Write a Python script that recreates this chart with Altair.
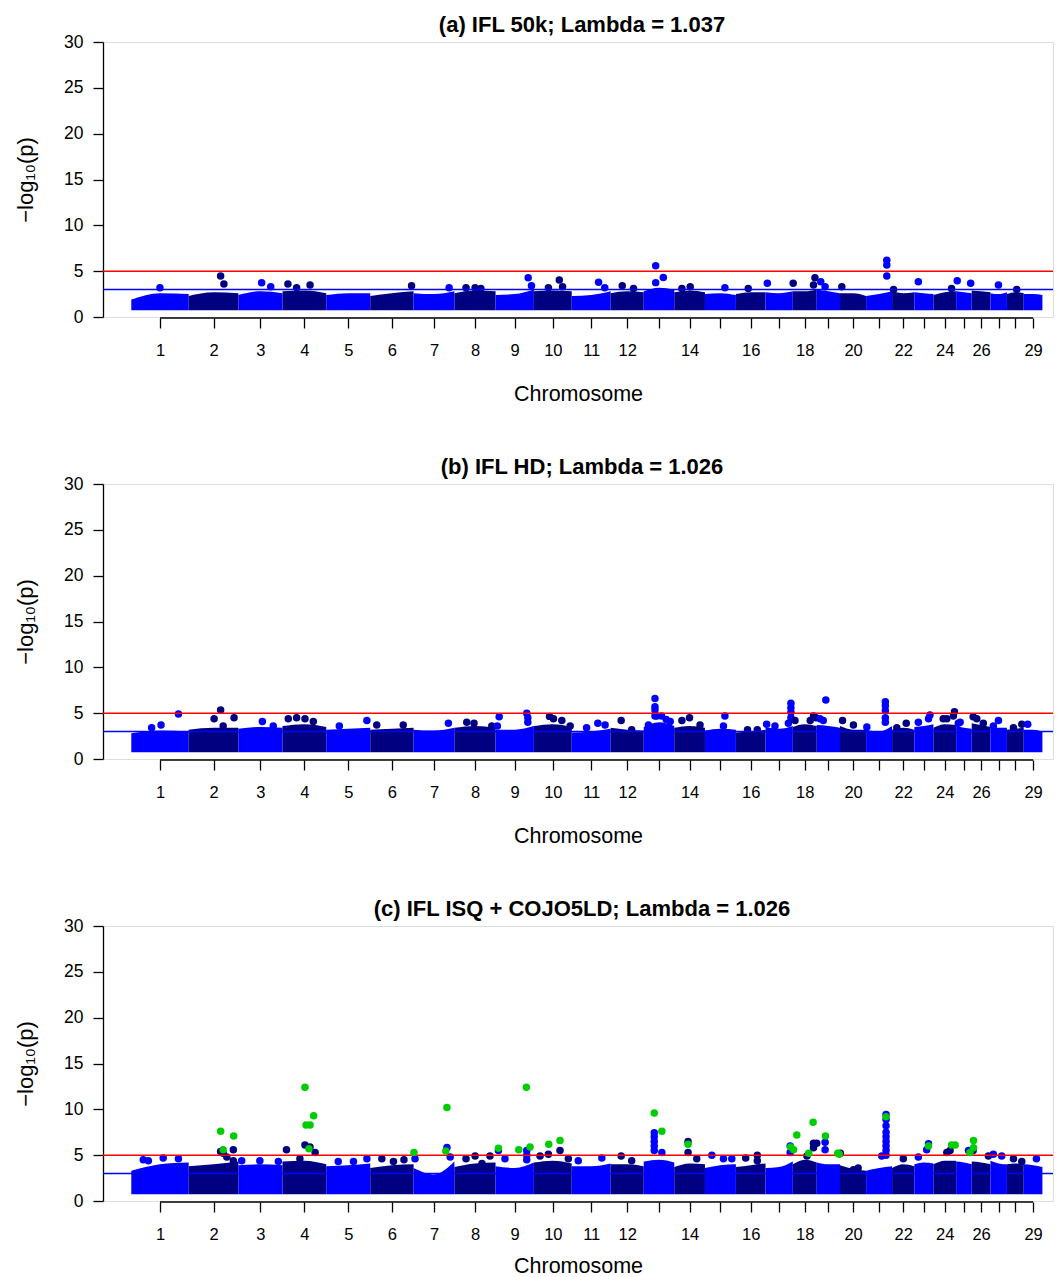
import altair as alt
import pandas as pd

# ---------------- data ----------------
chrom_names = [str(i) for i in range(1, 30)]
chrom_len = [158.3, 137.1, 121.4, 120.7, 121.2, 119.5, 112.6, 113.4, 105.7, 104.3,
             107.3, 91.2, 84.2, 84.6, 85.3, 81.7, 75.2, 66.0, 64.1, 72.0,
             71.6, 61.4, 52.5, 62.7, 42.9, 51.7, 45.4, 46.3, 51.5]
tick_labels = ["1", "2", "3", "4", "5", "6", "7", "8", "9", "10", "11", "12", "",
               "14", "", "16", "", "18", "", "20", "", "22", "", "24", "", "26",
               "", "", "29"]

titles = ["(a) IFL 50k; Lambda = 1.037",
          "(b) IFL HD; Lambda = 1.026",
          "(c) IFL ISQ + COJO5LD; Lambda = 1.026"]

# upper edge of the dense SNP cloud per chromosome (start, middle, end)
env_a = [[1.9, 2.6, 2.5], [2.3, 2.7, 2.6], [2.4, 2.8, 2.6], [2.8, 2.9, 2.6], [2.4, 2.6, 2.6],
         [2.3, 2.6, 2.8], [2.6, 2.5, 2.8], [2.6, 2.9, 2.8], [2.4, 2.5, 3.0], [2.8, 2.9, 2.8],
         [2.3, 2.4, 2.8], [2.6, 2.8, 2.7], [2.8, 3.2, 3.0], [2.7, 2.9, 2.7], [2.5, 2.6, 2.4],
         [2.5, 2.7, 2.7], [2.7, 2.6, 2.8], [2.8, 2.8, 3.0], [3.0, 2.8, 2.6], [2.6, 2.6, 2.3],
         [2.3, 2.5, 2.8], [2.8, 2.6, 2.7], [2.7, 2.6, 2.5], [2.4, 2.7, 2.8], [2.8, 2.7, 2.6],
         [2.9, 2.8, 2.7], [2.6, 2.5, 2.7], [2.5, 2.7, 2.6], [2.5, 2.5, 2.4]]
env_b = [[2.8, 3.1, 3.0], [3.2, 3.4, 3.4], [3.3, 3.5, 3.4], [3.6, 3.8, 3.5], [3.2, 3.3, 3.4],
         [3.2, 3.3, 3.4], [3.2, 3.1, 3.4], [3.4, 3.6, 3.4], [3.2, 3.2, 3.6], [3.6, 3.8, 3.5],
         [2.9, 3.0, 3.3], [3.4, 3.2, 3.1], [3.5, 4.0, 3.6], [3.4, 3.6, 3.4], [3.1, 3.3, 3.2],
         [2.9, 3.0, 3.2], [3.5, 3.3, 3.6], [3.5, 3.8, 3.6], [3.7, 3.6, 3.4], [3.6, 3.2, 3.2],
         [3.2, 3.0, 3.6], [3.2, 3.4, 3.2], [3.5, 3.6, 3.8], [3.4, 3.8, 3.7], [3.6, 3.4, 3.3],
         [3.9, 3.7, 3.5], [3.5, 3.4, 3.4], [3.2, 3.3, 3.4], [3.2, 3.2, 3.0]]
env_c = [[3.3, 4.0, 4.2], [3.8, 4.0, 4.3], [3.9, 4.0, 3.9], [4.3, 4.4, 4.0], [3.8, 3.9, 4.1],
         [3.6, 3.9, 4.0], [3.6, 2.9, 4.3], [3.7, 4.1, 4.2], [3.8, 3.6, 4.2], [4.2, 4.4, 4.1],
         [3.8, 3.8, 4.1], [4.0, 4.0, 3.8], [4.3, 4.5, 4.2], [3.7, 4.1, 4.0], [3.6, 3.9, 4.0],
         [3.7, 3.9, 4.1], [3.6, 3.7, 4.3], [4.0, 4.5, 4.2], [4.2, 4.0, 4.0], [3.9, 3.5, 3.3],
         [3.3, 3.6, 3.8], [3.6, 4.0, 3.8], [4.0, 4.2, 4.1], [4.0, 4.4, 4.4], [4.3, 4.2, 4.0],
         [4.3, 4.2, 4.0], [4.4, 4.1, 4.0], [4.0, 4.1, 4.0], [4.0, 3.9, 3.7]]

# individual SNPs standing out of the cloud: (chromosome, position Mb, -log10 p)
peaks_a = [(1, 79, 3.2), (2, 88, 4.47), (2, 97, 3.6), (3, 64, 3.74), (3, 89, 3.3),
           (4, 15, 3.6), (4, 39, 3.2), (4, 76, 3.5), (6, 114, 3.4), (7, 98, 3.2),
           (8, 32, 3.2), (8, 57, 3.2), (8, 73, 3.1), (9, 90, 4.29), (9, 99, 3.4),
           (10, 70, 4.03), (10, 79, 3.3), (10, 40, 3.2), (11, 74, 3.78), (11, 91, 3.2),
           (12, 32, 3.4), (12, 63, 3.1), (13, 33, 5.6), (13, 54, 4.3), (13, 33, 3.75),
           (14, 44, 3.3), (14, 21, 3.1), (15, 55, 3.2), (16, 34, 3.1), (17, 5, 3.67),
           (18, 1, 3.67), (18, 61, 4.29), (18, 57, 3.5), (19, 11, 3.85), (19, 23, 3.3),
           (20, 5, 3.3), (21, 57, 6.2), (21, 57, 5.67), (21, 57, 4.47), (22, 4, 3.0),
           (23, 11, 3.85), (24, 50, 3.1), (25, 3, 3.96), (25, 40, 3.67), (27, 22, 3.5),
           (28, 27, 3.0)]
peaks_b = [(1, 82, 3.7), (1, 130, 4.9), (1, 56, 3.4), (2, 88, 5.34), (2, 70, 4.4),
           (2, 125, 4.5), (2, 95, 3.6), (3, 66, 4.1), (3, 96, 3.6), (4, 16, 4.4),
           (4, 39, 4.5), (4, 62, 4.4), (4, 85, 4.1), (5, 36, 3.6), (5, 112, 4.2),
           (6, 18, 3.7), (6, 91, 3.7), (7, 96, 3.9), (8, 34, 4.0), (8, 54, 3.9),
           (8, 103, 3.6), (9, 10, 4.6), (9, 5, 3.6), (9, 86, 5.0), (9, 89, 4.5),
           (9, 89, 4.0), (10, 43, 4.65), (10, 54, 4.4), (10, 77, 4.2), (10, 100, 3.6),
           (11, 72, 3.9), (11, 41, 3.4), (11, 92, 3.7), (12, 29, 4.2), (12, 58, 3.2),
           (13, 31, 6.6), (13, 31, 5.7), (13, 31, 5.35), (13, 31, 4.7), (13, 36, 4.7),
           (13, 49, 4.7), (13, 62, 4.3), (13, 13, 3.7), (13, 73, 4.1), (14, 42, 4.5),
           (14, 21, 4.2), (14, 71, 3.7), (15, 55, 4.7), (15, 51, 3.6), (16, 32, 3.2),
           (16, 59, 3.2), (17, 70, 6.07), (17, 70, 5.6), (17, 70, 5.1), (17, 70, 4.5),
           (17, 63, 3.9), (17, 3, 3.8), (17, 26, 3.6), (18, 57, 4.7), (18, 64, 4.5),
           (18, 6, 4.2), (18, 48, 4.2), (19, 25, 6.43), (19, 18, 4.2), (19, 9, 4.4),
           (20, 7, 4.2), (20, 37, 3.7), (21, 53, 6.25), (21, 53, 5.8), (21, 53, 5.3),
           (21, 53, 4.5), (21, 53, 4.0), (21, 2, 3.5), (22, 39, 3.9), (22, 13, 3.4),
           (23, 43, 4.8), (23, 39, 4.4), (23, 11, 4.0), (24, 58, 5.16), (24, 55, 4.7),
           (24, 37, 4.4), (24, 27, 4.4), (25, 11, 4.0), (25, 6, 3.9), (26, 4, 4.6),
           (26, 14, 4.4), (26, 32, 3.9), (27, 22, 4.2), (27, 8, 3.6), (28, 41, 3.8),
           (28, 18, 3.4), (29, 11, 3.8)]
peaks_c = [(1, 88, 4.7), (1, 130, 4.6), (1, 33, 4.5), (1, 47, 4.4), (2, 88, 5.4),
           (2, 105, 4.8), (2, 123, 5.6), (2, 123, 4.4), (2, 95, 5.2), (3, 9, 4.4),
           (3, 59, 4.4), (3, 110, 4.3), (4, 62, 6.1), (4, 76, 5.9), (4, 11, 5.6),
           (4, 90, 5.3), (4, 48, 4.6), (5, 112, 4.6), (5, 33, 4.3), (5, 75, 4.3),
           (6, 32, 4.6), (6, 93, 4.5), (6, 64, 4.3), (7, 92, 5.85), (7, 4, 4.6),
           (7, 101, 4.8), (8, 32, 4.6), (8, 57, 4.9), (8, 76, 4.1), (8, 98, 4.9),
           (9, 86, 5.5), (9, 86, 5.0), (9, 86, 4.5), (9, 8, 5.5), (9, 26, 4.6),
           (10, 72, 5.5), (10, 17, 4.9), (10, 40, 5.1), (10, 95, 4.6), (11, 18, 4.4),
           (11, 83, 4.7), (12, 29, 4.9), (12, 58, 4.4), (13, 29, 7.45), (13, 29, 7.0),
           (13, 29, 6.5), (13, 29, 6.0), (13, 29, 5.5), (13, 50, 5.3), (14, 38, 6.5),
           (14, 38, 5.3), (14, 62, 4.6), (15, 19, 4.98), (15, 51, 4.6), (15, 74, 4.6),
           (16, 27, 4.7), (16, 59, 5.0), (16, 59, 4.4), (17, 68, 6.0), (17, 68, 5.3),
           (18, 57, 6.3), (18, 66, 6.3), (18, 39, 4.9), (18, 57, 5.8), (19, 23, 6.4),
           (19, 23, 5.6), (20, 1, 5.2), (20, 37, 3.4), (20, 50, 3.6), (21, 55, 9.45),
           (21, 55, 8.9), (21, 55, 8.2), (21, 55, 7.5), (21, 55, 7.0), (21, 55, 6.5),
           (21, 55, 6.0), (21, 55, 5.5), (21, 55, 5.0), (21, 43, 4.9), (22, 31, 4.6),
           (23, 39, 6.25), (23, 34, 5.6), (23, 11, 4.8), (24, 37, 5.3), (24, 46, 5.5),
           (25, 34, 5.5), (26, 4, 5.5), (26, 46, 4.9), (27, 8, 5.1), (27, 31, 4.9),
           (28, 18, 4.6), (28, 41, 4.3), (29, 35, 4.6)]
# conditionally independent (COJO) SNPs, shown in green in panel (c)
cojo_c = [(2, 88, 7.6), (2, 95, 5.6), (2, 124, 7.1), (4, 62, 12.4), (4, 65, 8.3),
          (4, 76, 8.3), (4, 86, 9.3), (4, 73, 5.7), (7, 1, 5.3), (7, 92, 10.2),
          (7, 89, 5.45), (9, 8, 5.75), (9, 64, 5.6), (9, 85, 12.4), (9, 95, 5.9),
          (10, 41, 6.2), (10, 72, 6.6), (13, 29, 9.6), (13, 50, 7.6), (14, 38, 6.2),
          (17, 69, 5.9), (18, 2, 5.6), (18, 11, 7.2), (18, 44, 5.2), (18, 56, 8.6),
          (19, 24, 7.1), (19, 58, 5.2), (19, 62, 5.1), (21, 55, 9.2), (23, 39, 6.0),
          (24, 50, 6.1), (24, 60, 6.1), (25, 38, 5.3), (26, 5, 6.6), (26, 5, 5.8)]

suggestive_line = 3
genomewide_line = 5

# ---------------- derived tables ----------------
starts = []
acc = 0.0
for L in chrom_len:
    starts.append(acc)
    acc += L
centers = [round(s + L / 2, 1) for s, L in zip(starts, chrom_len)]


def shade(c):
    return "odd" if c % 2 == 1 else "even"


def band_df(env):
    rows = []
    for i, (s, L) in enumerate(zip(starts, chrom_len)):
        for k, frac in enumerate([0.0, 0.5, 1.0]):
            rows.append({"x": s + frac * L, "top": env[i][k], "base": 0.75,
                         "chr": chrom_names[i], "shade": shade(i + 1)})
    return pd.DataFrame(rows)


def pts_df(peaks, kind=None):
    rows = []
    for c, mb, v in peaks:
        rows.append({"x": starts[c - 1] + mb, "y": v,
                     "shade": kind if kind else shade(c)})
    return pd.DataFrame(rows)


# ---------------- chart ----------------
FONT = "Liberation Sans"
W, H = 950, 275
PT = 56
xscale = alt.Scale(domain=[-78, 2541], nice=False, zero=False)
yscale = alt.Scale(domain=[0, 30], nice=False)
cscale = alt.Scale(domain=["odd", "even", "cojo"], range=["#0000FF", "#000080", "#00CD00"])

labels_js = "[" + ",".join("'" + t + "'" for t in tick_labels) + "]"
centers_js = "[" + ",".join(str(c) for c in centers) + "]"


def xaxis(title_pad):
    return alt.Axis(values=centers, labelExpr=f"{labels_js}[indexof({centers_js}, datum.value)]",
                    title="Chromosome", titleFont=FONT, titleFontSize=21.5, titleFontWeight="normal",
                    titleColor="black", titlePadding=title_pad, labelFont=FONT, labelFontSize=16.5,
                    labelColor="black", labelPadding=14.5, labelOverlap=False, labelFlush=False,
                    tickSize=10, tickColor="black", tickWidth=1.3, domain=False, grid=False, offset=1)


yaxis = alt.Axis(values=[0, 5, 10, 15, 20, 25, 30], title="\u2212log\u2081\u2080(p)",
                 titleFont=FONT, titleFontSize=22, titleFontWeight="normal", titleColor="black",
                 titleX=-78, titleY=H / 2, titleAngle=-90, titleBaseline="middle",
                 labelFont=FONT, labelFontSize=17.5, labelColor="black", labelPadding=10,
                 tickSize=10, tickColor="black", tickWidth=1.3, domainColor="black",
                 domainWidth=1.3, grid=False)

Y = lambda f: alt.Y(f, scale=yscale, axis=yaxis)


def panel(title, env, peaks, cojo=None, title_pad=24):
    xa = xaxis(title_pad)
    X = lambda f: alt.X(f, scale=xscale, axis=xa)
    band = alt.Chart(band_df(env)).mark_area(interpolate="monotone", opacity=1).encode(
        x=X("x:Q"), y=Y("top:Q"), y2="base:Q",
        color=alt.Color("shade:N", scale=cscale, legend=None), detail="chr:N")
    pts = alt.Chart(pts_df(peaks)).mark_circle(size=PT, opacity=1).encode(
        x=X("x:Q"), y=Y("y:Q"), color=alt.Color("shade:N", scale=cscale, legend=None))
    lines = alt.Chart(pd.DataFrame({"y": [genomewide_line, suggestive_line],
                                    "kind": ["gw", "sug"]})).mark_rule(strokeWidth=1.5).encode(
        y=Y("y:Q"),
        color=alt.Color("kind:N", scale=alt.Scale(domain=["gw", "sug"], range=["#FF0000", "#0000FF"]),
                        legend=None))
    axline = alt.Chart(pd.DataFrame({"x1": [centers[0]], "x2": [centers[-1]]})).mark_rule(
        color="black", strokeWidth=1.3).encode(x=X("x1:Q"), x2="x2:Q", y=alt.value(H + 1))
    layers = [band, pts, lines]
    if cojo:
        layers.append(alt.Chart(pts_df(cojo, "cojo")).mark_circle(size=PT, opacity=1).encode(
            x=X("x:Q"), y=Y("y:Q"), color=alt.Color("shade:N", scale=cscale, legend=None)))
    layers.append(axline)
    return alt.layer(*layers).resolve_scale(color="independent").properties(
        width=W, height=H,
        title=alt.TitleParams(title, font=FONT, fontSize=22, fontWeight="bold", color="black",
                              anchor="middle", frame="group", offset=-4, dx=4))


chart = alt.vconcat(
    panel(titles[0], env_a, peaks_a),
    panel(titles[1], env_b, peaks_b),
    panel(titles[2], env_c, peaks_c, cojo_c, title_pad=12),
    spacing=50,
).properties(
    padding={"left": 5, "top": 5, "right": 0, "bottom": 0}
).configure_view(stroke=None).configure(font=FONT)

chart.save("out.html", embed_options={"renderer": "svg", "actions": False})
